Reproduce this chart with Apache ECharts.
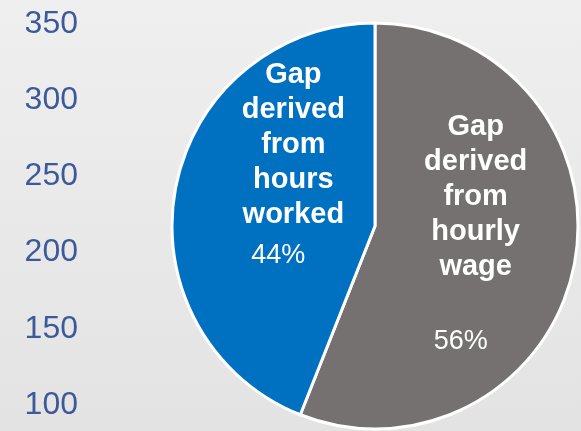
<!DOCTYPE html>
<html>
<head>
<meta charset="utf-8">
<script src="https://cdn.jsdelivr.net/npm/echarts@6/dist/echarts.min.js"></script>
<style>
  html, body { margin: 0; padding: 0; }
  #chart { width: 581px; height: 431px; }
</style>
</head>
<body>
<div id="chart"></div>
<script>
// pie slices, clockwise from 12 o'clock
const sliceNames = ['Gap derived from hourly wage', 'Gap derived from hours worked'];
const sliceValues = [56, 44];
const sliceColors = ['#767171', '#0070C0'];

// leftover value axis on the left
const yMin = 100;
const yMax = 350;
const yStep = 50;

const chart = echarts.init(document.getElementById('chart'));

// gap between name and percentage, and how far the percentage sits left
const pctPad = [[85, 30, 0, 0], [17, 30, 0, 0]];
const labelShift = [[-2, -34], [21, -46.5]];

const option = {
  backgroundColor: {
    type: 'linear', x: 0, y: 0, x2: 0, y2: 1,
    colorStops: [
      { offset: 0, color: '#EFEFEF' },
      { offset: 1, color: '#E3E3E3' }
    ]
  },
  grid: { left: 86, right: 10, top: 24, bottom: 26 },
  xAxis: { type: 'value', show: false },
  yAxis: {
    type: 'value',
    min: yMin,
    max: yMax,
    interval: yStep,
    axisLine: { show: false },
    axisTick: { show: false },
    splitLine: { show: false },
    axisLabel: {
      margin: 8,
      color: '#3C5A9A',
      fontSize: 32,
      fontFamily: 'Liberation Sans, Arial, sans-serif'
    }
  },
  series: [{
    type: 'pie',
    center: [375, 226],
    radius: 203,
    startAngle: 90,
    clockwise: true,
    silent: true,
    itemStyle: { borderColor: '#FFFFFF', borderWidth: 3 },
    label: {
      position: 'inside',
      fontFamily: 'Liberation Sans, Arial, sans-serif'
    },
    labelLine: { show: false },
    labelLayout: function (params) {
      const s = labelShift[params.dataIndex];
      return { dx: s[0], dy: s[1] };
    },
    data: sliceNames.map(function (name, i) {
      return {
        name: name,
        value: sliceValues[i],
        itemStyle: { color: sliceColors[i] },
        label: {
          formatter: function (p) {
            const words = p.name.split(' ').map(function (w) { return '{n|' + w + '}'; });
            return words.join('\n') + '\n{p|' + p.percent.toFixed(0) + '%}';
          },
          rich: {
            n: {
              color: '#FFFFFF',
              fontSize: 29,
              fontWeight: 'bold',
              lineHeight: 35,
              align: 'center',
              fontFamily: 'Liberation Sans, Arial, sans-serif'
            },
            p: {
              color: '#FFFFFF',
              fontSize: 27,
              lineHeight: 30,
              align: 'center',
              padding: pctPad[i],
              fontFamily: 'Liberation Sans, Arial, sans-serif'
            }
          }
        }
      };
    })
  }]
};

chart.setOption(option);
</script>
</body>
</html>
